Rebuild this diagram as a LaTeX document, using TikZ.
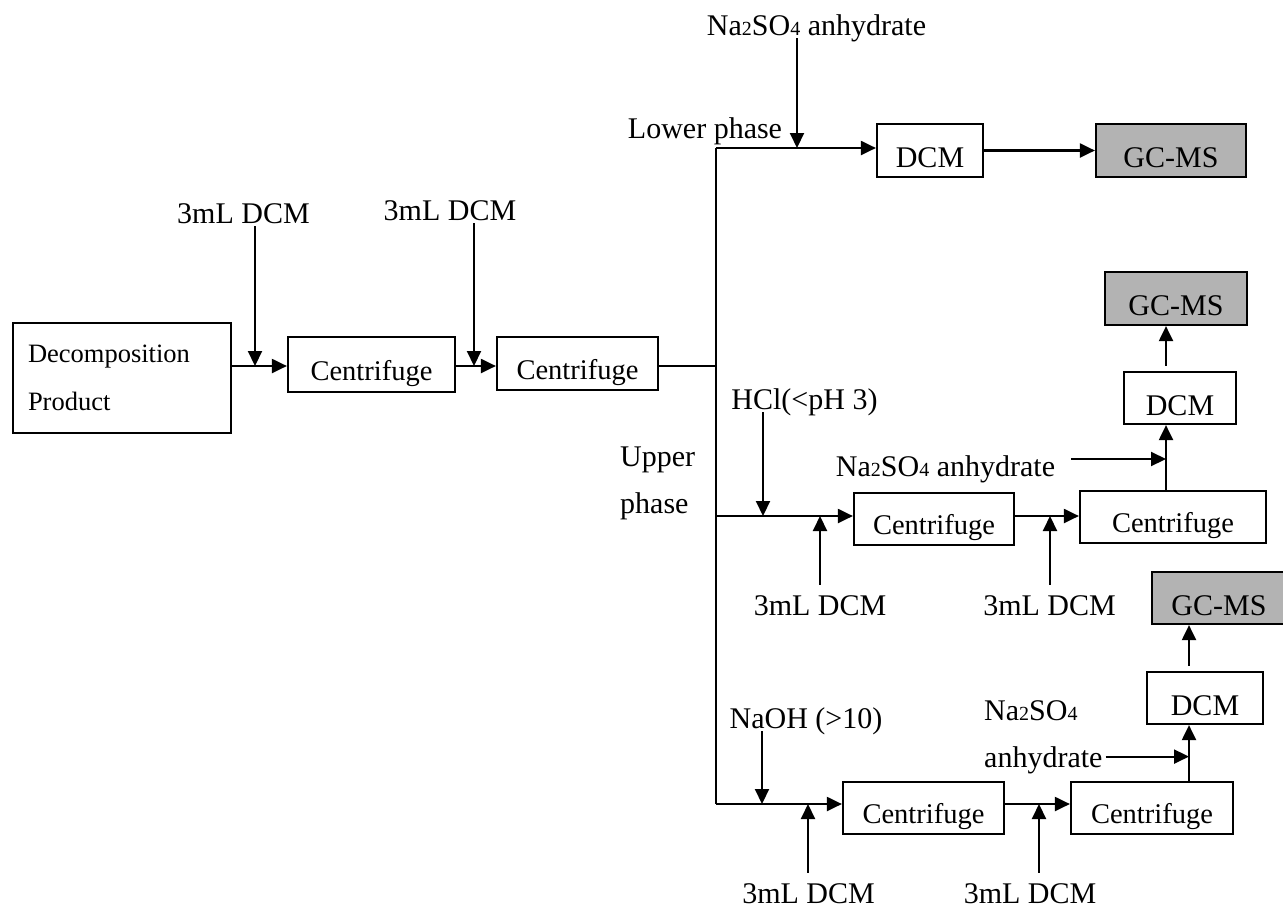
\documentclass[tikz,border=0pt]{standalone}
\usepackage{fontspec}
\setmainfont{Liberation Serif}
\usetikzlibrary{arrows.meta}
\definecolor{gcgray}{RGB}{179,179,179}
\newcommand{\subnum}[1]{{\fontsize{20}{20}\selectfont #1}}

\begin{document}
\begin{tikzpicture}[x=1pt,y=-1pt,
  box/.style={draw,line width=2.2pt,inner sep=0pt,text height=34pt,text depth=0pt,font=\fontsize{30}{36}\selectfont},
  cfbox/.style={box,text height=31pt,font=\fontsize{28.5}{34}\selectfont},
  gcbox/.style={box,fill=gcgray},
  lbl/.style={inner sep=3pt,text depth=0pt,font=\fontsize{30}{36}\selectfont},
  arr/.style={line width=2.1pt,-{Triangle[length=15pt,width=14pt]}},
  feed/.style={arr,shorten <=7pt}]
  \useasboundingbox (0,0) rectangle (1283,908);

  \node[draw,line width=2.2pt,minimum width=218pt,minimum height=110pt,text width=188pt,inner xsep=15pt,align=left,font=\fontsize{26.5}{48}\selectfont] (dp) at (122,378) {Decomposition\\Product};
  \node[cfbox,minimum width=167pt,minimum height=55pt] (cfA) at (371.5,364.5) {Centrifuge};
  \node[cfbox,minimum width=161pt,minimum height=53pt] (cfB) at (577.5,363.5) {Centrifuge};
  \node[box,minimum width=106pt,minimum height=53pt] (dcmA) at (930,150.5) {DCM};
  \node[gcbox,minimum width=150pt,minimum height=53pt] (gcA) at (1171,150.5) {GC-MS};
  \node[cfbox,minimum width=160pt,minimum height=52pt] (cfC) at (934,519) {Centrifuge};
  \node[cfbox,minimum width=186pt,minimum height=52pt] (cfD) at (1173,517) {Centrifuge};
  \node[box,minimum width=112pt,minimum height=52pt] (dcmB) at (1180,398) {DCM};
  \node[gcbox,minimum width=142pt,minimum height=53pt] (gcB) at (1176,298.5) {GC-MS};
  \node[cfbox,minimum width=161pt,minimum height=52pt] (cfE) at (923.5,808) {Centrifuge};
  \node[cfbox,minimum width=162pt,minimum height=52pt] (cfF) at (1152,808) {Centrifuge};
  \node[box,minimum width=116pt,minimum height=52pt] (dcmC) at (1205,698) {DCM};
  \node[gcbox,minimum width=134pt,minimum height=52pt] (gcC) at (1219,598) {GC-MS};

  \node[lbl,anchor=base] (tA) at (243.5,223) {3mL DCM};
  \node[lbl,anchor=base] (tB) at (450,220) {3mL DCM};
  \node[lbl,anchor=base] (lowlbl) at (705,138) {Lower phase};
  \node[lbl,anchor=base] (nsA) at (816.5,35) {Na\subnum{2}SO\subnum{4} anhydrate};
  \node[lbl,anchor=base west] (uppA) at (617,466) {Upper};
  \node[lbl,anchor=base west] (uppB) at (617,513) {phase};
  \node[lbl,anchor=base] (hcl) at (804.5,409) {HCl(<pH 3)};
  \node[lbl,anchor=base] (nsB) at (945.5,476) {Na\subnum{2}SO\subnum{4} anhydrate};
  \node[lbl,anchor=base] (naoh) at (806,728) {NaOH (>10)};
  \node[lbl,anchor=base west] (nsC) at (981,720) {Na\subnum{2}SO\subnum{4}};
  \node[lbl,anchor=base west] (anhC) at (981,767) {anhydrate};
  \foreach \n/\x/\y in {dB1/820/615, dB2/1049.5/615, dC1/808.5/903, dC2/1030/903}
    \node[lbl,anchor=base] (\n) at (\x,\y) {3mL DCM};

  \coordinate (spl) at (716,366);
  \coordinate (lo) at (716,148);
  \coordinate (up) at (716,516);
  \coordinate (bt) at (716,804);
  \coordinate (jA) at (797,148);
  \coordinate (j1) at (255,366);
  \coordinate (j2) at (474,366);
  \coordinate (jB1) at (763,516);
  \coordinate (jB2) at (820,516);
  \coordinate (jB3) at (1050,516);
  \coordinate (kB) at (1166,459);
  \coordinate (jC1) at (762,804);
  \coordinate (jC2) at (808,804);
  \coordinate (jC3) at (1039,804);
  \coordinate (kC) at (1189,758);

  \draw[arr] (dp.east |- j1) -- (cfA.west |- j1);
  \draw[arr] (cfA.east |- j2) -- (cfB.west |- j2);
  \draw[line width=2.1pt] (cfB.east |- spl) -- (spl);
  \draw[line width=2.1pt] (lo) -- (bt);
  \draw[arr] (tA.south -| j1) -- (j1);
  \draw[arr] (tB.south -| j2) -- (j2);

  \draw[arr] (lo) -- (lo -| dcmA.west);
  \draw[arr] (nsA.south -| jA) -- (jA);
  \draw[arr] (dcmA) -- (gcA);

  \draw[arr] (up) -- (up -| cfC.west);
  \draw[arr] (hcl.south -| jB1) -- (jB1);
  \draw[arr] (cfC.east |- up) -- (cfD.west |- up);
  \draw[arr] (cfD.north -| kB) -- (dcmB.south -| kB);
  \draw[arr,shorten <=13pt] (nsB.east |- kB) -- (kB);
  \draw[arr,shorten <=5pt] (dcmB.north -| kB) -- (gcB.south -| kB);

  \draw[arr] (bt) -- (bt -| cfE.west);
  \draw[arr] (naoh.south -| jC1) -- (jC1);
  \draw[arr] (cfE.east |- bt) -- (cfF.west |- bt);
  \draw[arr] (cfF.north -| kC) -- (dcmC.south -| kC);
  \draw[arr] (anhC.east) -- (anhC.east -| kC);
  \draw[arr,shorten <=5pt] (dcmC.north -| kC) -- (gcC.south -| kC);

  \foreach \n/\j in {dB1/jB2, dB2/jB3, dC1/jC2, dC2/jC3}
    \draw[feed] (\n.north -| \j) -- (\j);
\end{tikzpicture}
\end{document}
